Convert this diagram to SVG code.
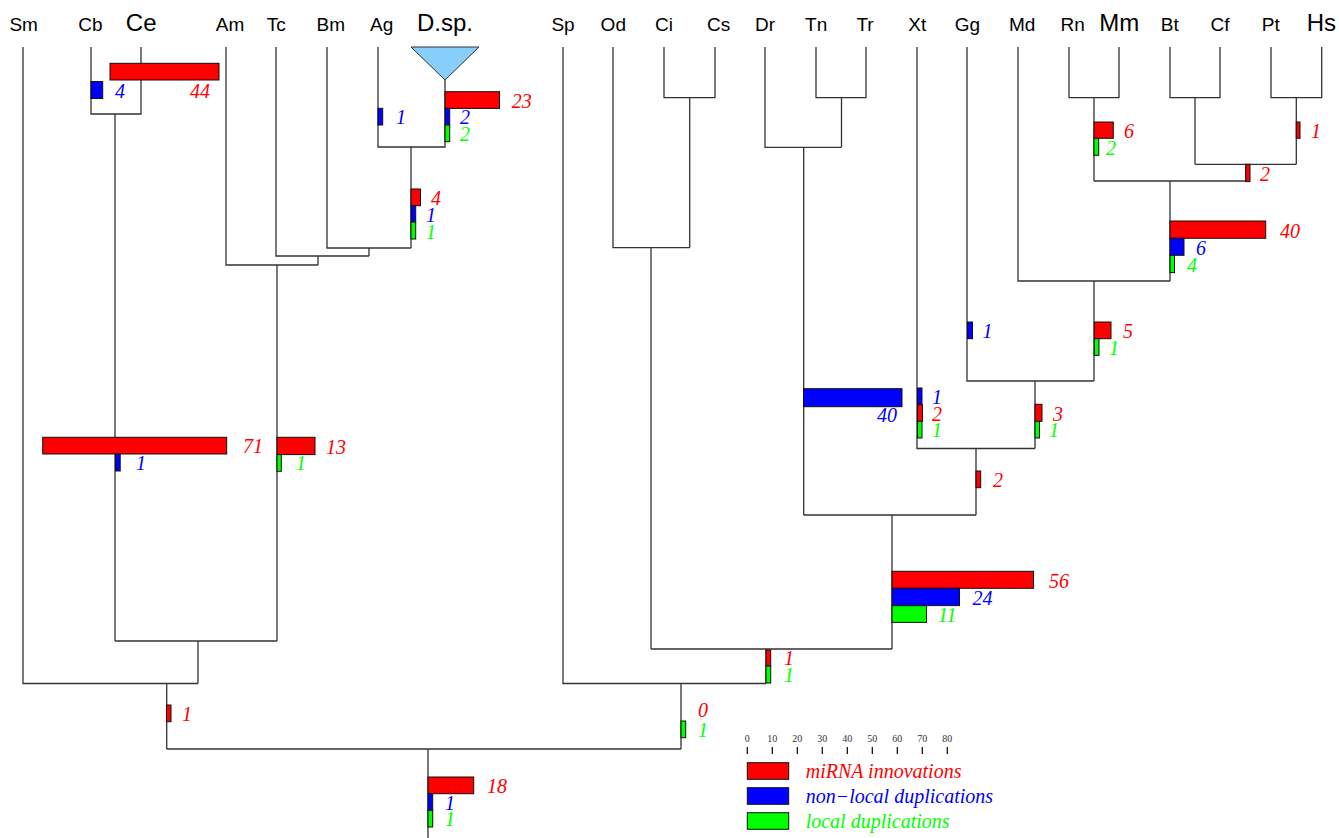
<svg xmlns="http://www.w3.org/2000/svg" width="1339" height="838" viewBox="0 0 1339 838">
<style>
.bg{fill:#fff}
.tree path{fill:none;stroke:#333;stroke-width:1.3}
.lf{font-family:"Liberation Sans",Arial,sans-serif;font-size:19px;fill:#000;text-anchor:middle}
.lf.big{font-size:24px}
.r{fill:#ff0000;stroke:#111;stroke-width:1}
.b{fill:#0000ff;stroke:#111;stroke-width:1}
.g{fill:#00ff00;stroke:#111;stroke-width:1}
.n{font-family:"Liberation Serif","Times New Roman",serif;font-style:italic;font-size:20px}
.tr{fill:#ff0000}.tb{fill:#0000ff}.tg{fill:#00ff00}
.tick{stroke:#000;stroke-width:1.2}
.tl{font-family:"Liberation Serif","Times New Roman",serif;font-size:10px;fill:#333;text-anchor:middle}
</style>
<rect class="bg" x="0" y="0" width="1339" height="838"/>

<g id="connectors" class="tree">
<path d="M91,47 V114 H141 V47 M115,114 V641"/>
<path d="M378,47 V147 H445 V80 M411,147 V248"/>
<path d="M327,47 V248 H411 M369,248 V256"/>
<path d="M276,47 V256 H369 M318,256 V265"/>
<path d="M226,47 V265 H318 M277,265 V641"/>
<path d="M115,641 H277 M198,641 V683.5"/>
<path d="M23,47 V683.5 H198 M166.7,683.5 V749"/>
<path d="M166.7,749 H681 M428,749 V838"/>
<path d="M664,47 V97.7 H715 V47 M689.7,97.7 V247.7"/>
<path d="M613,47 V247.7 H689.7 M651,247.7 V649"/>
<path d="M816,47 V97.7 H866 V47 M841.5,97.7 V147.3"/>
<path d="M765,47 V147.3 H841.5 M803.7,147.3 V515"/>
<path d="M1069,47 V97.7 H1119 V47 M1094,97.7 V181"/>
<path d="M1170,47 V97.7 H1220 V47 M1195,97.7 V164.3"/>
<path d="M1271,47 V97.7 H1321.7 V47 M1296.3,97.7 V164.3"/>
<path d="M1195,164.3 H1296.3 M1246,164.3 V181"/>
<path d="M1094,181 H1246 M1170,181 V281"/>
<path d="M1018,47 V281 H1170 M1094,281 V381"/>
<path d="M967,47 V381 H1094 M1035,381 V448.5"/>
<path d="M917,47 V448.5 H1035 M976,448.5 V515"/>
<path d="M803.7,515 H976 M892,515 V649"/>
<path d="M651,649 H892 M766,649 V683.5"/>
<path d="M563,47 V683.5 H766 M681,683.5 V749"/>
</g>

<g id="leaves">
<g id="leaf-Sm"><text class="lf" x="23.7" y="31">Sm</text></g>
<g id="leaf-Cb"><text class="lf" x="90.5" y="31">Cb</text></g>
<g id="leaf-Ce"><text class="lf big" x="141.2" y="31">Ce</text></g>
<g id="leaf-Am"><text class="lf" x="230" y="31">Am</text></g>
<g id="leaf-Tc"><text class="lf" x="276.2" y="31">Tc</text></g>
<g id="leaf-Bm"><text class="lf" x="330.8" y="31">Bm</text></g>
<g id="leaf-Ag"><text class="lf" x="381.7" y="31">Ag</text></g>
<g id="leaf-Dsp"><text class="lf big" x="445" y="31">D.sp.</text>
<polygon points="411,47 479,47 445,80" fill="#87cefa" stroke="#333" stroke-width="1"/></g>
<g id="leaf-Sp"><text class="lf" x="563" y="31">Sp</text></g>
<g id="leaf-Od"><text class="lf" x="613.3" y="31">Od</text></g>
<g id="leaf-Ci"><text class="lf" x="664" y="31">Ci</text></g>
<g id="leaf-Cs"><text class="lf" x="718.7" y="31">Cs</text></g>
<g id="leaf-Dr"><text class="lf" x="765" y="31">Dr</text></g>
<g id="leaf-Tn"><text class="lf" x="816.2" y="31">Tn</text></g>
<g id="leaf-Tr"><text class="lf" x="865" y="31">Tr</text></g>
<g id="leaf-Xt"><text class="lf" x="917.2" y="31">Xt</text></g>
<g id="leaf-Gg"><text class="lf" x="967.5" y="31">Gg</text></g>
<g id="leaf-Md"><text class="lf" x="1022.2" y="31">Md</text></g>
<g id="leaf-Rn"><text class="lf" x="1072.7" y="31">Rn</text></g>
<g id="leaf-Mm"><text class="lf big" x="1119.3" y="31">Mm</text></g>
<g id="leaf-Bt"><text class="lf" x="1169.8" y="31">Bt</text></g>
<g id="leaf-Cf"><text class="lf" x="1220" y="31">Cf</text></g>
<g id="leaf-Pt"><text class="lf" x="1270.8" y="31">Pt</text></g>
<g id="leaf-Hs"><text class="lf big" x="1321.3" y="31">Hs</text></g>
</g>

<g id="bars">
<g id="node-Ce"><rect class="r" x="110" y="63.3" width="109" height="16.7"/><text class="n tr" x="190" y="98">44</text></g>
<g id="node-Cb"><rect class="b" x="91" y="81.5" width="11.7" height="17"/><text class="n tb" x="115" y="98">4</text></g>
<g id="node-Ag"><rect class="b" x="378" y="108.3" width="4.7" height="16.7"/><text class="n tb" x="396" y="124">1</text></g>
<g id="node-Dsp">
<rect class="r" x="445" y="91.7" width="54.5" height="16.7"/><text class="n tr" x="511.7" y="107.5">23</text>
<rect class="b" x="445" y="108.3" width="4.7" height="16.7"/><text class="n tb" x="460" y="124">2</text>
<rect class="g" x="445" y="125" width="4.7" height="16.7"/><text class="n tg" x="460" y="141">2</text>
</g>
<g id="node-Diptera">
<rect class="r" x="411" y="189" width="9.5" height="16.7"/><text class="n tr" x="431" y="205">4</text>
<rect class="b" x="411" y="205.7" width="4.7" height="16.3"/><text class="n tb" x="426" y="222">1</text>
<rect class="g" x="411" y="222" width="4.7" height="17"/><text class="n tg" x="426" y="239">1</text>
</g>
<g id="node-Nematoda">
<rect class="r" x="42.7" y="437.3" width="184" height="16.7"/><text class="n tr" x="243" y="453">71</text>
<rect class="b" x="115.5" y="454" width="4.7" height="17"/><text class="n tb" x="136" y="470">1</text>
</g>
<g id="node-Arthropoda">
<rect class="r" x="277" y="437.3" width="38" height="17.3"/><text class="n tr" x="326" y="453.5">13</text>
<rect class="g" x="277" y="454.6" width="4.3" height="16.7"/><text class="n tg" x="296" y="470">1</text>
</g>
<g id="node-Protostomia"><rect class="r" x="166.5" y="705" width="4.5" height="16.7"/><text class="n tr" x="182" y="721">1</text></g>
<g id="node-Deuterostomia">
<text class="n tr" x="698" y="717">0</text>
<rect class="g" x="681" y="721" width="4.7" height="16.7"/><text class="n tg" x="698" y="737">1</text>
</g>
<g id="node-Root">
<rect class="r" x="428" y="777" width="45.7" height="16.7"/><text class="n tr" x="487" y="793">18</text>
<rect class="b" x="428" y="793.7" width="4.7" height="16.7"/><text class="n tb" x="445" y="810">1</text>
<rect class="g" x="428" y="810.3" width="4.7" height="16.7"/><text class="n tg" x="445" y="826">1</text>
</g>
<g id="node-Chordata">
<rect class="r" x="766" y="650" width="4.7" height="16"/><text class="n tr" x="784" y="665">1</text>
<rect class="g" x="766" y="666" width="4.7" height="17"/><text class="n tg" x="784" y="682">1</text>
</g>
<g id="node-Vertebrata">
<rect class="r" x="892" y="571.3" width="141.5" height="17"/><text class="n tr" x="1049" y="588">56</text>
<rect class="b" x="892" y="588.3" width="67.5" height="17.3"/><text class="n tb" x="972.5" y="605">24</text>
<rect class="g" x="892" y="605.7" width="34.5" height="16.7"/><text class="n tg" x="938" y="622">11</text>
</g>
<g id="node-Teleostei"><rect class="b" x="803.5" y="388.7" width="98.5" height="18"/><text class="n tb" x="877" y="421.7">40</text></g>
<g id="node-Xt">
<rect class="b" x="917.5" y="388" width="4.5" height="16.7"/><text class="n tb" x="932" y="404">1</text>
<rect class="r" x="917.5" y="404.7" width="5" height="16.7"/><text class="n tr" x="932" y="421">2</text>
<rect class="g" x="917.5" y="421.3" width="4.5" height="16.7"/><text class="n tg" x="932" y="437">1</text>
</g>
<g id="node-Amniota">
<rect class="r" x="1035" y="404.3" width="7" height="17"/><text class="n tr" x="1053" y="421">3</text>
<rect class="g" x="1035" y="421.3" width="4.5" height="16.7"/><text class="n tg" x="1049" y="437">1</text>
</g>
<g id="node-Tetrapoda"><rect class="r" x="976" y="471" width="4.7" height="16.7"/><text class="n tr" x="993" y="487">2</text></g>
<g id="node-Gg"><rect class="b" x="967.5" y="322" width="5" height="16.7"/><text class="n tb" x="982.5" y="338">1</text></g>
<g id="node-Mammalia">
<rect class="r" x="1094.3" y="322" width="16.7" height="16.7"/><text class="n tr" x="1123" y="338">5</text>
<rect class="g" x="1094.3" y="338.7" width="4.7" height="16.7"/><text class="n tg" x="1109" y="355">1</text>
</g>
<g id="node-Eutheria">
<rect class="r" x="1170" y="221" width="95.7" height="17.3"/><text class="n tr" x="1280" y="238">40</text>
<rect class="b" x="1170" y="238.3" width="14" height="17"/><text class="n tb" x="1196" y="255">6</text>
<rect class="g" x="1170" y="255.3" width="4.5" height="17.3"/><text class="n tg" x="1187" y="272">4</text>
</g>
<g id="node-Rodentia">
<rect class="r" x="1094" y="122" width="19.3" height="16.3"/><text class="n tr" x="1124" y="138">6</text>
<rect class="g" x="1094" y="138.3" width="4.7" height="17"/><text class="n tg" x="1106" y="155">2</text>
</g>
<g id="node-Primates"><rect class="r" x="1296.3" y="122" width="3.7" height="16.3"/><text class="n tr" x="1311" y="138">1</text></g>
<g id="node-Boreoeutheria"><rect class="r" x="1245.7" y="164.3" width="4.3" height="17.3"/><text class="n tr" x="1260" y="181">2</text></g>
</g>

<g id="legend">
<g id="scale">
<path class="tick" d="M747.3,747 V754 M772.3,747 V754 M797.3,747 V754 M822.3,747 V754 M847.3,747 V754 M872.3,747 V754 M897.3,747 V754 M922.3,747 V754 M947.3,747 V754"/>
<text class="tl" x="747.3" y="742">0</text>
<text class="tl" x="772.3" y="742">10</text>
<text class="tl" x="797.3" y="742">20</text>
<text class="tl" x="822.3" y="742">30</text>
<text class="tl" x="847.3" y="742">40</text>
<text class="tl" x="872.3" y="742">50</text>
<text class="tl" x="897.3" y="742">60</text>
<text class="tl" x="922.3" y="742">70</text>
<text class="tl" x="947.3" y="742">80</text>
</g>
<rect class="r" x="747.3" y="762.7" width="41.4" height="16.6"/><text class="n tr" x="805.7" y="778.3">miRNA innovations</text>
<rect class="b" x="747.3" y="787.7" width="41.4" height="16.6"/><text class="n tb" x="805.7" y="803.3">non−local duplications</text>
<rect class="g" x="747.3" y="812.7" width="41.4" height="16.6"/><text class="n tg" x="805.7" y="828.3">local duplications</text>
</g>
</svg>
